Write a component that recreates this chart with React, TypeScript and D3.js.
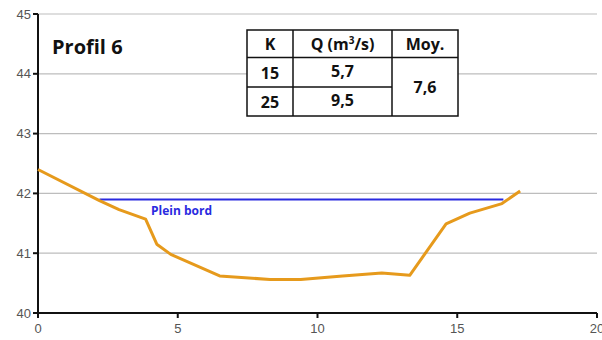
import React from "react";
import * as d3 from "d3";

const profileX = [0, 2.2, 2.9, 3.85, 4.25, 4.75, 6.5, 8.3, 9.4, 10.9, 12.3, 13.3, 14.6, 15.45, 16.6, 17.25];
const profileY = [42.4, 41.88, 41.73, 41.57, 41.15, 40.98, 40.62, 40.56, 40.56, 40.62, 40.67, 40.63, 41.49, 41.67, 41.83, 42.04];
const pleinBordX = [2.2, 16.65];
const pleinBordY = 41.9;
const xTicks = [0, 5, 10, 15, 20];
const yTicks = [40, 41, 42, 43, 44, 45];
const tableHeader = ["K", "Q (m³/s)", "Moy."];
const tableK = ["15", "25"];
const tableQ = ["5,7", "9,5"];
const tableMoy = "7,6";
const title = "Profil 6";
const pleinBordLabel = "Plein bord";

const W = 602;
const H = 340;
const M = { left: 38, top: 14, right: 597, bottom: 313 };

export default function App() {
  const x = d3.scaleLinear().domain([0, 20]).range([M.left, M.right]);
  const y = d3.scaleLinear().domain([40, 45]).range([M.bottom, M.top]);
  const pts: [number, number][] = profileX.map((v, i) => [v, profileY[i]]);
  const line = d3
    .line<[number, number]>()
    .x((d) => x(d[0]))
    .y((d) => y(d[1]));

  const tx = [247, 293, 392, 458];
  const ty = [30, 57.5, 87, 116];
  const font = "'Open Sans', Lato, sans-serif";
  const tick = "'Liberation Sans', Arial, sans-serif";

  return (
    <svg
      width={W}
      height={H}
      style={{ position: "absolute", left: 0, top: 0, background: "#fff" }}
    >
      {yTicks.map((t) => (
        <line key={"g" + t} x1={M.left} x2={M.right} y1={y(t)} y2={y(t)} stroke="#bdbdbd" strokeWidth={1.2} />
      ))}
      <line x1={M.left} x2={M.left} y1={M.top} y2={M.bottom + 1} stroke="#111" strokeWidth={2} />
      <line x1={M.left - 1} x2={M.right} y1={M.bottom} y2={M.bottom} stroke="#111" strokeWidth={2} />
      {yTicks.map((t) => (
        <g key={"y" + t}>
          <line x1={M.left - 5} x2={M.left} y1={y(t)} y2={y(t)} stroke="#111" strokeWidth={2} />
          <text x={M.left - 7} y={y(t) + 4.5} textAnchor="end" fontFamily={tick} fontSize={13} fill="#555">
            {t}
          </text>
        </g>
      ))}
      {xTicks.map((t) => (
        <g key={"x" + t}>
          <line x1={x(t)} x2={x(t)} y1={M.bottom} y2={M.bottom + 5} stroke="#111" strokeWidth={2} />
          <text x={x(t)} y={M.bottom + 20} textAnchor="middle" fontFamily={tick} fontSize={13} fill="#555">
            {t}
          </text>
        </g>
      ))}
      <line
        x1={x(pleinBordX[0])}
        x2={x(pleinBordX[1])}
        y1={y(pleinBordY)}
        y2={y(pleinBordY)}
        stroke="#2a2ae0"
        strokeWidth={2}
      />
      <text x={151} y={215} fontFamily={font} fontWeight={700} fontSize={12} fill="#2a2ae0">
        {pleinBordLabel}
      </text>
      <path d={line(pts) || ""} fill="none" stroke="#e69a1c" strokeWidth={3} strokeLinejoin="round" />
      <text x={52} y={54} fontFamily={font} fontWeight={700} fontSize={20} fill="#111">
        {title}
      </text>
      <g fontFamily={font} fontWeight={700} fontSize={16} fill="#111">
        <rect x={tx[0]} y={ty[0]} width={tx[3] - tx[0]} height={ty[3] - ty[0]} fill="#fff" stroke="#111" strokeWidth={1.5} />
        <line x1={tx[0]} x2={tx[3]} y1={ty[1]} y2={ty[1]} stroke="#111" strokeWidth={1.5} />
        <line x1={tx[0]} x2={tx[2]} y1={ty[2]} y2={ty[2]} stroke="#111" strokeWidth={1.5} />
        <line x1={tx[1]} x2={tx[1]} y1={ty[0]} y2={ty[3]} stroke="#111" strokeWidth={1.5} />
        <line x1={tx[2]} x2={tx[2]} y1={ty[0]} y2={ty[3]} stroke="#111" strokeWidth={1.5} />
        <text x={(tx[0] + tx[1]) / 2} y={50} textAnchor="middle">{tableHeader[0]}</text>
        <text x={(tx[1] + tx[2]) / 2} y={50} textAnchor="middle">
          Q (m<tspan dy={-6} fontSize={10}>3</tspan><tspan dy={6}>/s)</tspan>
        </text>
        <text x={(tx[2] + tx[3]) / 2} y={50} textAnchor="middle">{tableHeader[2]}</text>
        {tableK.map((k, i) => (
          <text key={"k" + k} x={(tx[0] + tx[1]) / 2} y={ty[i + 1] + 21} textAnchor="middle">{k}</text>
        ))}
        {tableQ.map((q, i) => (
          <text key={"q" + q} x={(tx[1] + tx[2]) / 2} y={ty[i + 1] + 19} textAnchor="middle">{q}</text>
        ))}
        <text x={(tx[2] + tx[3]) / 2} y={(ty[1] + ty[3]) / 2 + 6} textAnchor="middle">{tableMoy}</text>
      </g>
    </svg>
  );
}
